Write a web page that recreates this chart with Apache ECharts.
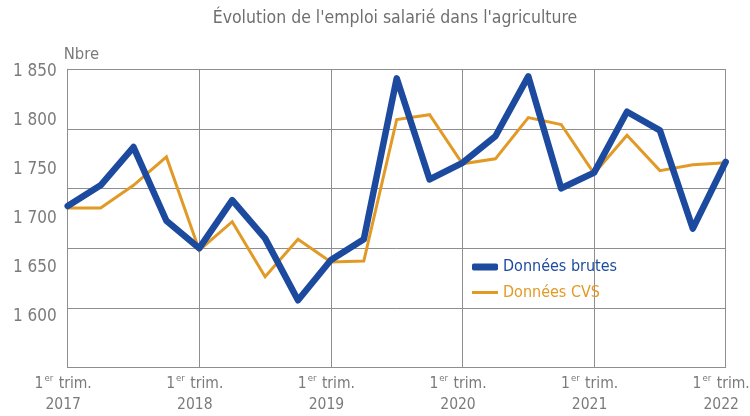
<!DOCTYPE html>
<html><head><meta charset="utf-8">
<script src="https://cdn.jsdelivr.net/npm/echarts@6/dist/echarts.min.js"></script>
<style>html,body{margin:0;padding:0;background:#fff}#c{width:750px;height:416px}</style>
</head><body><div id="c"></div>
<script>
const categories = ['T1 2017','T2 2017','T3 2017','T4 2017','T1 2018','T2 2018','T3 2018','T4 2018','T1 2019','T2 2019','T3 2019','T4 2019','T1 2020','T2 2020','T3 2020','T4 2020','T1 2021','T2 2021','T3 2021','T4 2021','T1 2022'];
const brutes = [1713,1734,1773,1698,1670,1719,1680,1617,1658,1679,1843,1740,1757,1784,1845,1731,1747,1809,1790,1690,1758];
const cvs = [1711,1711,1734,1763,1668,1697,1641,1679,1656,1657,1801,1806,1756,1761,1803,1796,1746,1785,1749,1755,1757];
const yTickLabels = [1600,1650,1700,1750,1800,1850];

const FONT = '"DejaVu Sans Condensed","Liberation Sans Narrow","Roboto",sans-serif';
const GRAY = '#7b7b7d';
const GRID = '#8e8e8e';
const BLUE = '#1c4a9e';
const ORANGE = '#e29a27';

const chart = echarts.init(document.getElementById('c'));
chart.setOption({
  animation: false,
  title: {
    text: "Évolution de l'emploi salarié dans l'agriculture",
    left: 390, textAlign: 'center', top: 4,
    textStyle: {fontFamily: FONT, fontSize: 17.5, fontWeight: 'normal', color: '#6e6f71'}
  },
  legend: [
    {
      orient: 'vertical', left: 467, top: 252, itemWidth: 26, itemHeight: 7, itemGap: 0,
      data: [{name: 'Données brutes', icon: 'roundRect', textStyle: {color: BLUE}}],
      textStyle: {fontFamily: FONT, fontSize: 16, lineHeight: 20}
    },
    {
      orient: 'vertical', left: 467, top: 277.5, itemWidth: 26, itemHeight: 3, itemGap: 0,
      data: [{name: 'Données CVS', icon: 'rect', textStyle: {color: ORANGE}}],
      textStyle: {fontFamily: FONT, fontSize: 16, lineHeight: 20}
    }
  ],
  grid: {left: 67.7, right: 24.3, top: 69.3, bottom: 48.5, containLabel: false, outerBoundsMode: 'none'},
  xAxis: {
    type: 'category', data: categories, boundaryGap: false,
    axisLine: {show: true, lineStyle: {color: GRID, width: 1}},
    axisTick: {show: false},
    splitLine: {show: true, interval: 3, lineStyle: {color: GRID, width: 1}},
    axisLabel: {
      interval: 3, margin: 6, color: GRAY, fontFamily: FONT, fontSize: 15.5, lineHeight: 21,
      padding: [0, 9, 0, 0], hideOverlap: false, showMaxLabel: true, showMinLabel: true,
      formatter: function (v) { return '{n|1}{s|er}{n| trim.}\n{n|' + v.split(' ')[1] + '}'; },
      rich: {
        n: {fontFamily: FONT, fontSize: 15.5, color: GRAY, lineHeight: 21},
        s: {fontFamily: FONT, fontSize: 9.5, color: GRAY, verticalAlign: 'top', lineHeight: 21, padding: [0,1,6,1]}
      }
    }
  },
  yAxis: [
    {
      type: 'value', min: 1548.5, max: 1852.2,
      name: 'Nbre', nameLocation: 'end', nameGap: 6,
      nameTextStyle: {fontFamily: FONT, fontSize: 16.5, color: GRAY, align: 'left', padding: [0,0,0,-4]},
      axisLine: {show: true, lineStyle: {color: GRID, width: 1}},
      axisTick: {show: false},
      splitLine: {show: false},
      axisLabel: {
        customValues: yTickLabels, margin: 11, color: GRAY, fontFamily: FONT, fontSize: 17,
        formatter: function (v) { return String(v).replace(/\B(?=(\d{3})+(?!\d))/g, ' '); }
      }
    },
    {
      type: 'value', min: 0, max: 5, interval: 1, position: 'left',
      axisLine: {show: false}, axisTick: {show: false}, axisLabel: {show: false},
      splitLine: {show: true, lineStyle: {color: GRID, width: 1}}
    }
  ],
  series: [
    {name: 'Données brutes', type: 'line', data: brutes, yAxisIndex: 0, symbol: 'none', z: 3,
     lineStyle: {color: BLUE, width: 6.5, cap: 'round', join: 'round'}, itemStyle: {color: BLUE}},
    {name: 'Données CVS', type: 'line', data: cvs, yAxisIndex: 0, symbol: 'none', z: 2,
     lineStyle: {color: ORANGE, width: 3, join: 'miter'}, itemStyle: {color: ORANGE}}
  ]
});
</script></body></html>
